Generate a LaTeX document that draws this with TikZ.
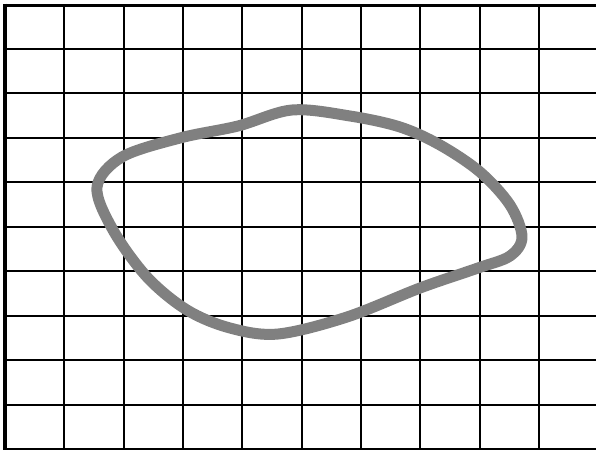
\documentclass[tikz,border=0pt]{standalone}
\usepackage{xcolor}
\usepackage{tikz}
\usetikzlibrary{calc}
\definecolor{bk100}{HTML}{000000}
\definecolor{outline}{HTML}{808080}
\tikzset{
  gridline/.style={draw=bk100, line width=#1},
  gridline/.default=2pt,
  blobline/.style={draw=outline, line width=11pt, line join=round}
}
\begin{document}
\begin{tikzpicture}[x=1pt, y=-1pt]
  \useasboundingbox (0,0) rectangle (596,450);
  % grid
  \foreach \i in {1,...,9}
    \draw[gridline] ({5+59.35*\i},5) -- ({5+59.35*\i},450);
  \foreach \j in {1,...,10}
    \draw[gridline] (5,{4+44.5*\j}) -- (596,{4+44.5*\j});
  \draw[gridline=4pt] (5,3.5) -- (5,450);
  \draw[gridline=3pt] (3,5) -- (596,5);
  % closed outline
  \draw[blobline] plot[smooth cycle, tension=0.55] coordinates {
    (292,110) (350,116) (400,127) (440,145) (480,172) (510,205)
    (522,237) (510,256) (478,268) (420,288) (347,317) (278,334)
    (230,328) (187,310) (147,277) (113,230) (97,187) (122,157)
    (180,138) (238,126)};
\end{tikzpicture}
\end{document}
